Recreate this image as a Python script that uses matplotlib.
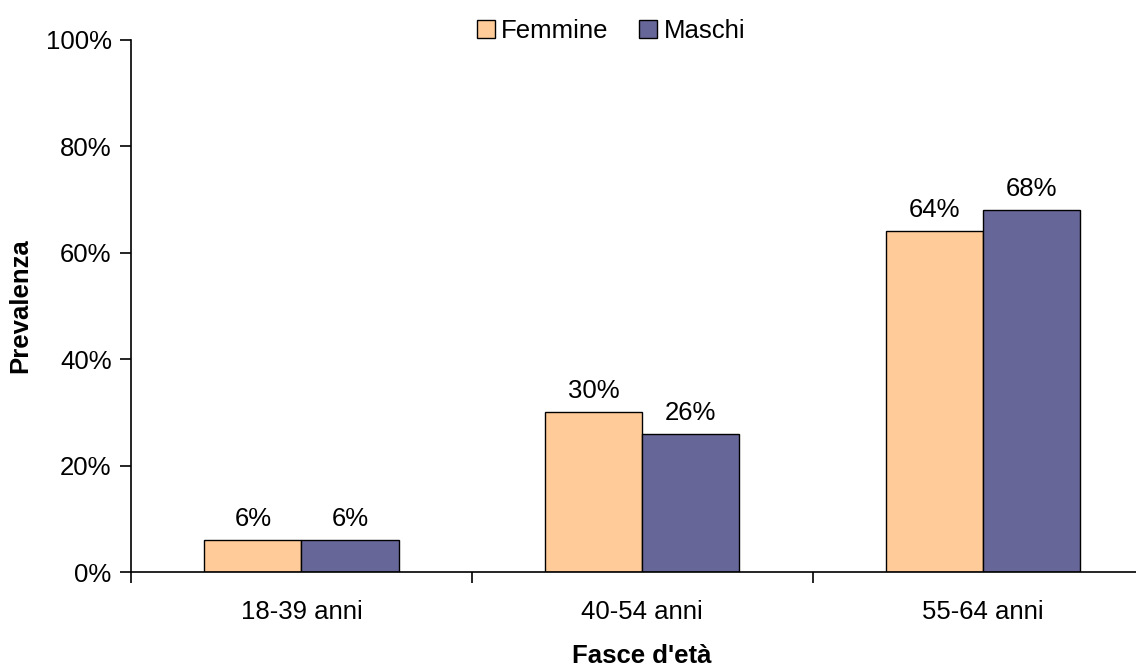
import matplotlib.pyplot as plt
import matplotlib.transforms as mtransforms
import numpy as np

categories = ['18-39 anni', '40-54 anni', '55-64 anni']
femmine = [6, 30, 64]
maschi = [6, 26, 68]

plt.rcParams['font.family'] = ['Liberation Sans', 'DejaVu Sans']
FS = 18.5

fig = plt.figure(figsize=(11.36, 6.66), dpi=100)
ax = fig.add_axes([0.1153, 0.1411, 0.9, 0.799])

x = np.arange(len(categories))
width = 0.285
b1 = ax.bar(x - width / 2, femmine, width, color='#FFCC99', edgecolor='black',
            linewidth=1, label='Femmine')
b2 = ax.bar(x + width / 2, maschi, width, color='#666699', edgecolor='black',
            linewidth=1, label='Maschi')

for bars, vals in ((b1, femmine), (b2, maschi)):
    for rect, v in zip(bars, vals):
        ax.text(rect.get_x() + rect.get_width() / 2, v + 1.7, f'{v}%',
                ha='center', va='bottom', fontsize=FS)

ax.set_xlim(-0.5, len(categories) - 0.5)
ax.set_ylim(0, 100)
ax.set_yticks(range(0, 101, 20))
ax.set_yticklabels([f'{t}%' for t in range(0, 101, 20)], fontsize=FS)

# category boundaries get the tick marks, names sit at the centres
ax.set_xticks(np.arange(-0.5, len(categories), 1.0))
ax.set_xticklabels([])
ax.set_xticks(x, minor=True)
ax.set_xticklabels(categories, minor=True, fontsize=FS)
ax.tick_params(axis='x', which='minor', length=0, pad=20)
ax.tick_params(axis='x', which='major', length=8, width=1.2, direction='out')
ax.tick_params(axis='y', length=8, width=1.2, direction='out', pad=6)

for side in ('top', 'right'):
    ax.spines[side].set_visible(False)
ax.spines['left'].set_linewidth(1.2)
ax.spines['bottom'].set_linewidth(1.2)

ax.set_ylabel('Prevalenza', fontsize=FS, fontweight='bold')
ax.set_xlabel("Fasce d'età", fontsize=FS, fontweight='bold')
ylab_tr = mtransforms.blended_transform_factory(fig.transFigure, ax.transAxes)
ax.yaxis.set_label_coords(20 / 1136, 0.5, transform=ylab_tr)
ax.xaxis.set_label_coords(642 / 1136, 1 - 656 / 666, transform=fig.transFigure)
ax.xaxis.label.set_va('center')
ax.yaxis.label.set_va('center')

leg = ax.legend(loc='center', ncol=2, frameon=False, fontsize=FS,
                handlelength=0.7, handleheight=0.7, handletextpad=0.25,
                columnspacing=1.2, borderpad=0)
leg.set_bbox_to_anchor((611 / 1136, 1 - 31 / 666), transform=fig.transFigure)

fig.savefig('out.png', dpi=100)
